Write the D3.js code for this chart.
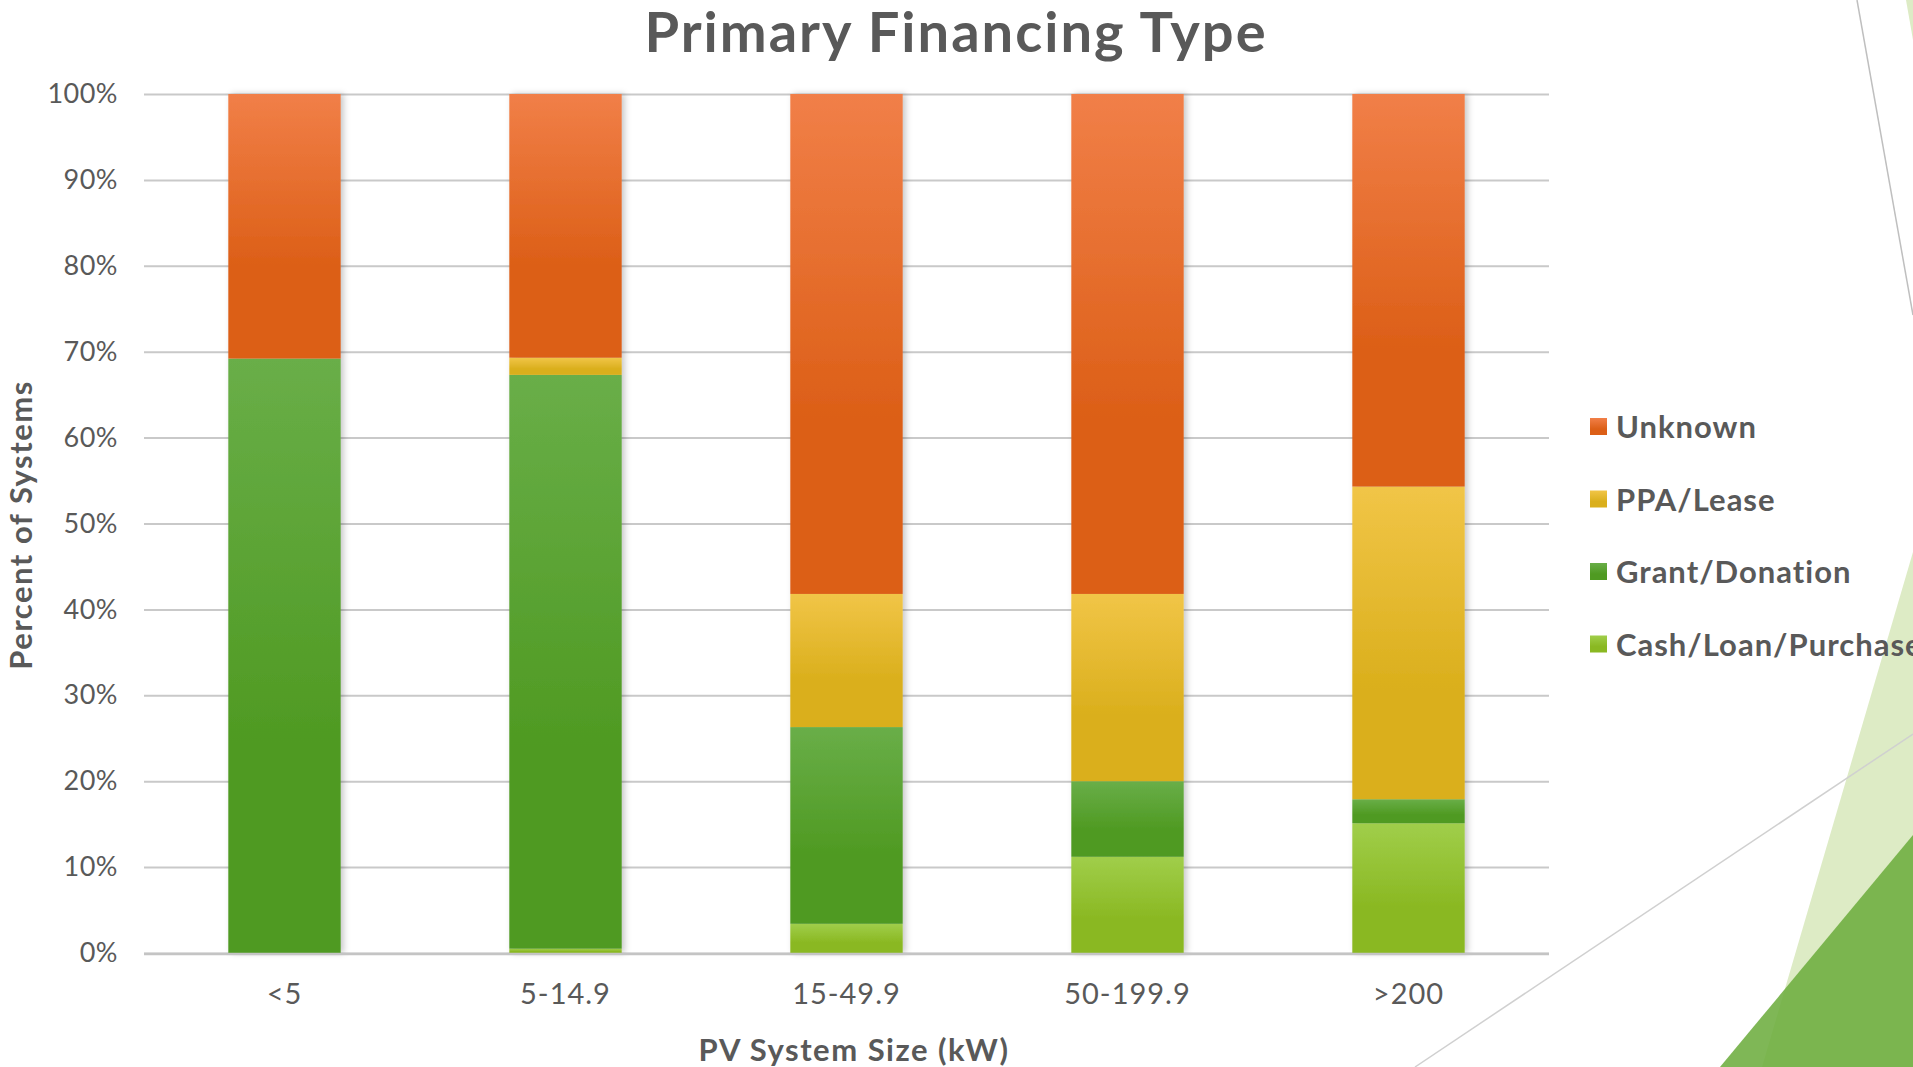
<!DOCTYPE html>
<html>
<head>
<meta charset="utf-8">
<script src="https://cdn.jsdelivr.net/npm/d3@7"></script>
<style>
  html, body { margin: 0; padding: 0; background: #fff; overflow: hidden; }
  svg { display: block; }
  text { font-family: Lato, "Open Sans", sans-serif; fill: #595959; }
</style>
</head>
<body>
<svg id="chart" width="1913" height="1067"></svg>
<script>
const categories = ["<5", "5-14.9", "15-49.9", "50-199.9", ">200"];
const cashLoanPurchase = [0, 0.5, 3.4, 11.2, 15.1];
const grantDonation = [69.2, 66.8, 22.9, 8.8, 2.8];
const ppaLease = [0, 2.0, 15.5, 21.8, 36.4];
const unknown = [30.8, 30.7, 58.2, 58.2, 45.7];
const seriesNames = ["Cash/Loan/Purchase", "Grant/Donation", "PPA/Lease", "Unknown"];
const yTicks = [0, 0.1, 0.2, 0.3, 0.4, 0.5, 0.6, 0.7, 0.8, 0.9, 1.0];

const colors = {
  "Cash/Loan/Purchase": ["#A0CE4A", "#8AB822"],
  "Grant/Donation": ["#69AE48", "#4F9A22"],
  "PPA/Lease": ["#F1C547", "#DAAF1C"],
  "Unknown": ["#F17F48", "#DC5F17"]
};

const rows = categories.map((c, i) => ({
  cat: c,
  "Cash/Loan/Purchase": cashLoanPurchase[i],
  "Grant/Donation": grantDonation[i],
  "PPA/Lease": ppaLease[i],
  "Unknown": unknown[i]
}));

const svg = d3.select("#chart");
const plot = { left: 144, right: 1549, top: 94, bottom: 953 };

// background decoration
const deco = svg.append("g");
deco.append("line").attr("x1", 1857).attr("y1", 0).attr("x2", 1913).attr("y2", 315)
  .attr("stroke", "#bfbfbf").attr("stroke-width", 1.5);
deco.append("polygon").attr("points", "1906,0 1913,0 1913,40").attr("fill", "#DDEBC5");
deco.append("polygon").attr("points", "1913,552 1913,1067 1762,1067").attr("fill", "#DDEBC5");
deco.append("polygon").attr("points", "1913,835 1913,1067 1720,1067").attr("fill", "#6DAD3F").attr("fill-opacity", 0.88);
deco.append("line").attr("x1", 1415).attr("y1", 1067).attr("x2", 1913).attr("y2", 734)
  .attr("stroke", "#d0d0d0").attr("stroke-width", 1.5);

const defs = svg.append("defs");
seriesNames.forEach((s, i) => {
  const g = defs.append("linearGradient").attr("id", "grad" + i)
    .attr("x1", 0).attr("y1", 0).attr("x2", 0).attr("y2", 1);
  g.append("stop").attr("offset", "0%").attr("stop-color", colors[s][0]);
  g.append("stop").attr("offset", "65%").attr("stop-color", colors[s][1]);
  g.append("stop").attr("offset", "100%").attr("stop-color", colors[s][1]);
});
const f = defs.append("filter").attr("id", "shadow").attr("x", "-10%").attr("y", "-5%").attr("width", "130%").attr("height", "110%");
f.append("feDropShadow").attr("dx", 3).attr("dy", 0).attr("stdDeviation", 3)
  .attr("flood-color", "#000").attr("flood-opacity", 0.22);

const x = d3.scaleBand().domain(categories).range([plot.left, plot.right])
  .paddingInner(0.6).paddingOuter(0.3);
const y = d3.scaleLinear().domain([0, 1]).range([plot.bottom, plot.top]);

// gridlines + y tick labels
const yAxis = d3.axisLeft(y).tickValues(yTicks).tickFormat(d3.format(".0%"))
  .tickSize(-(plot.right - plot.left)).tickPadding(26);
const gy = svg.append("g").attr("transform", `translate(${plot.left},0)`).call(yAxis);
gy.select(".domain").remove();
gy.selectAll(".tick line").attr("stroke", "#c9c9c9").attr("stroke-width", 2);
gy.selectAll(".tick text").attr("font-size", 27).attr("fill", "#595959")
  .attr("letter-spacing", 0.5).style("font-family", "Lato, sans-serif");

// stacked bars
const stack = d3.stack().keys(seriesNames).offset(d3.stackOffsetExpand);
const stacked = stack(rows);
const barG = svg.append("g").attr("filter", "url(#shadow)");
stacked.forEach((layer, li) => {
  barG.append("g").selectAll("rect").data(layer).join("rect")
    .attr("x", d => x(d.data.cat))
    .attr("width", x.bandwidth())
    .attr("y", d => y(d[1]))
    .attr("height", d => Math.max(0, y(d[0]) - y(d[1])))
    .attr("fill", `url(#grad${li})`);
});

// baseline
svg.append("line").attr("x1", plot.left).attr("x2", plot.right)
  .attr("y1", y(0) + 1).attr("y2", y(0) + 1)
  .attr("stroke", "#c4c4c4").attr("stroke-width", 2.5);

// x axis labels
const xAxis = d3.axisBottom(x).tickSize(0).tickPadding(30);
const gx = svg.append("g").attr("transform", `translate(0,${plot.bottom})`).call(xAxis);
gx.select(".domain").remove();
gx.selectAll(".tick text").attr("font-size", 29).attr("fill", "#595959")
  .attr("letter-spacing", 1).style("font-family", "Lato, sans-serif");

// title
svg.append("text").attr("x", 956).attr("y", 52).attr("text-anchor", "middle")
  .attr("font-size", 56).attr("font-weight", "bold").attr("letter-spacing", 2)
  .text("Primary Financing Type");

// axis titles
svg.append("text").attr("x", 854).attr("y", 1061).attr("text-anchor", "middle")
  .attr("font-size", 31).attr("font-weight", "bold").attr("letter-spacing", 1.5)
  .text("PV System Size (kW)");
svg.append("text").attr("transform", "translate(32,525) rotate(-90)")
  .attr("text-anchor", "middle").attr("font-size", 31).attr("font-weight", "bold")
  .attr("letter-spacing", 1.5).text("Percent of Systems");

// legend (top to bottom: reverse series order)
const legendItems = seriesNames.slice().reverse();
const leg = svg.append("g");
legendItems.forEach((s, i) => {
  const yy = 427 + i * 72.5;
  const idx = seriesNames.indexOf(s);
  leg.append("rect").attr("x", 1590).attr("y", yy - 9).attr("width", 17).attr("height", 17)
    .attr("fill", `url(#grad${idx})`);
  leg.append("text").attr("x", 1616).attr("y", yy).attr("dy", "0.36em")
    .attr("font-size", 31).attr("font-weight", "bold").attr("letter-spacing", 1)
    .text(s);
});
</script>
</body>
</html>
